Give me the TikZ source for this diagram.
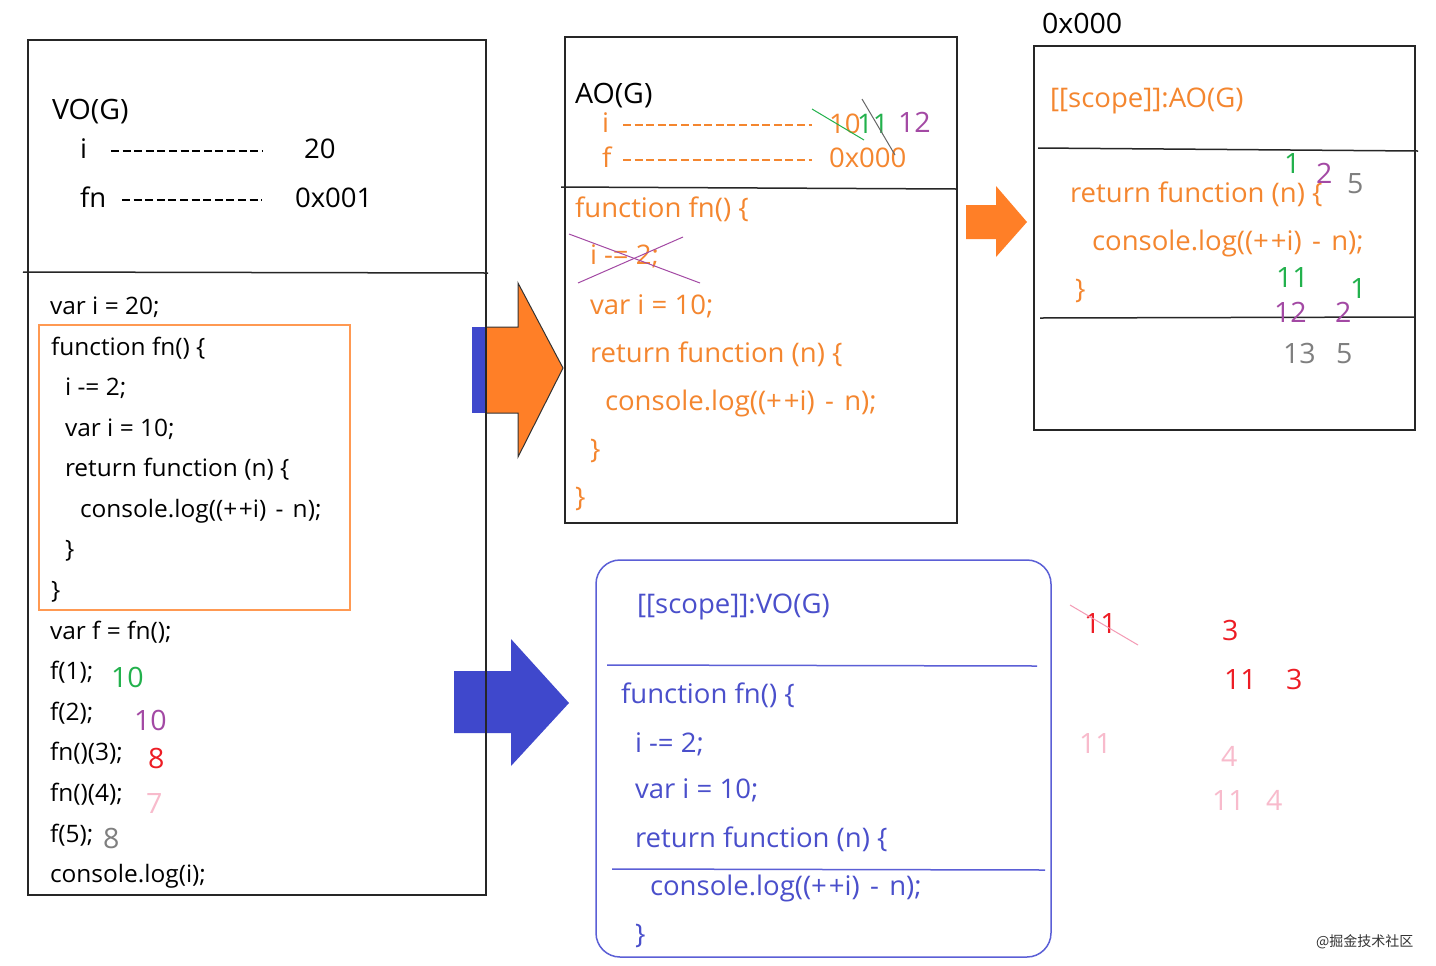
\documentclass[tikz,border=0pt]{standalone}
\usepackage{fontspec}
\setmainfont[FakeStretch=1.02]{Open Sans}
\newfontfamily\cjkfont{Noto Sans CJK SC}
\newcommand{\consl}{console.log((+\kern0.07em+i)\kern0.12em\ -\ \kern0.12em n);}
\definecolor{codeorange}{HTML}{F4862F}
\definecolor{arroworange}{HTML}{FF7F27}
\definecolor{arrowblue}{HTML}{3F48CC}
\definecolor{txtblue}{HTML}{4A4FCB}
\definecolor{boxblue}{HTML}{5B5FD6}
\definecolor{mygreen}{HTML}{22B14C}
\definecolor{mypurple}{HTML}{A349A4}
\definecolor{myred}{HTML}{ED1C24}
\definecolor{mypink}{HTML}{F49AB4}
\definecolor{lightpink}{HTML}{F8BBCC}
\definecolor{mygray}{HTML}{7F7F7F}
\begin{document}
\begin{tikzpicture}[x=0.5pt,y=-0.5pt,
  txt/.style={anchor=base west,inner sep=0pt,outer sep=0pt},
  small/.style={txt,font=\fontsize{12}{14}\selectfont},
  mid/.style={txt,font=\fontsize{13.5}{16}\selectfont},
  num/.style={txt,font=\fontsize{14}{16}\selectfont},
  boxline/.style={draw=black!85,line width=0.75pt},
  hyph/.style={line width=0.7pt,dash pattern=on 4pt off 1.8pt},
  strike/.style={line width=0.5pt}]
\useasboundingbox (0,0) rectangle (1436,965);
\fill[white] (0,0) rectangle (1436,965);

% ---------- arrows ----------
\fill[arrowblue] (472,327) rectangle (487,413);
\filldraw[fill=arroworange,draw=black!80,line width=0.5pt]
  (486,327) -- (518,327) -- (518,283) -- (563,368) -- (518,457) -- (518,413) -- (486,413) -- cycle;
\fill[arrowblue] (454,671) -- (511,671) -- (511,639) -- (569,703) -- (511,766) -- (511,733) -- (454,733) -- cycle;
\fill[arroworange] (966,205) -- (996,205) -- (996,186) -- (1027,222) -- (996,257) -- (996,239) -- (966,239) -- cycle;

% ---------- left box ----------
\draw[boxline] (28,40) rectangle (486,895);
\draw[boxline] (23,272) -- (488,273);
\node[num] (vog) at (52,119) {VO(G)};
\node[mid] (vi) at (80,158) {i};
\draw[hyph] (111,151) -- (263,151);
\node[mid] (v20) at (304,158) {20};
\node[mid] (vfn) at (80,207) {fn};
\draw[hyph] (122,200) -- (262,200);
\node[mid] (v001) at (295,207) {0x001};

\draw[draw=arroworange!80,line width=0.75pt] (39,325) rectangle (350,610);
\node[small] (l1) at (50,314) {var i = 20;};
\node[small] (l2) at (51,355) {function fn() \{};
\node[small] (l3) at (65,395) {i -= 2;};
\node[small] (l4) at (65,436) {var i = 10;};
\node[small] (l5) at (65,476) {return function (n) \{};
\node[small] (l6) at (80,517) {\consl};
\node[small] (l7) at (65,557) {\}};
\node[small] (l8) at (51,598) {\}};
\node[small] (l9) at (50,639) {var f = fn();};
\node[small] (l10) at (50,679) {f(1);};
\node[small] (l11) at (50,720) {f(2);};
\node[small] (l12) at (50,760) {fn()(3);};
\node[small] (l13) at (50,801) {fn()(4);};
\node[small] (l14) at (50,842) {f(5);};
\node[small] (l15) at (50,882) {console.log(i);};
\node[num,text=mygreen] (a1) at (111,687) {10};
\node[num,text=mypurple] (a2) at (134,730) {10};
\node[num,text=myred] (a3) at (148,768) {8};
\node[num,text=lightpink] (a4) at (146,813) {7};
\node[num,text=mygray] (a5) at (103,848) {8};

% ---------- middle top box ----------
\draw[boxline] (565,37) rectangle (957,523);
\draw[boxline] (561,187) -- (957,189);
\node[num] (aog) at (575,103) {AO(G)};
\node[mid,text=codeorange] (mi) at (602,132) {i};
\draw[hyph,codeorange] (623,125) -- (812,125);
\node[mid,text=codeorange] (m10) at (829,133) {10};
\node[mid,text=mygreen] (m11) at (857,133) {11};
\node[num,text=mypurple] (m12) at (898,132) {12};
\node[mid,text=codeorange] (mf) at (602,167) {f};
\draw[hyph,codeorange] (623,160) -- (812,160);
\node[mid,text=codeorange] (m000) at (829,167) {0x000};
\draw[strike,mygreen] (812,109) -- (864,140);
\draw[strike,black!60] (862,99) -- (895,155);
\node[mid,text=codeorange] (c1) at (575,217) {function fn() \{};
\node[mid,text=codeorange] (c2) at (590,264) {i -= 2;};
\draw[strike,mypurple] (569,234) -- (700,283);
\draw[strike,mypurple] (578,283) -- (683,237);
\node[mid,text=codeorange] (c3) at (590,314) {var i = 10;};
\node[mid,text=codeorange] (c4) at (590,362) {return function (n) \{};
\node[mid,text=codeorange] (c5) at (605,410) {\consl};
\node[mid,text=codeorange] (c6) at (590,458) {\}};
\node[mid,text=codeorange] (c7) at (575,506) {\}};

% ---------- right top box ----------
\node[num] (addr) at (1042,33) {0x000};
\draw[boxline] (1034,46) rectangle (1415,430);
\draw[boxline] (1038,148) -- (1418,151);
\draw[boxline] (1040,318) -- (1415,317);
\node[mid,text=codeorange] (r0) at (1050,107) {[[scope]]:AO(G)};
\node[mid,text=codeorange] (r1) at (1070,202) {return function (n) \{};
\node[mid,text=codeorange] (r2) at (1092,250) {\consl};
\node[mid,text=codeorange] (r3) at (1075,298) {\}};
\node[num,text=mygreen] (n1) at (1284,173) {1};
\node[num,text=mypurple] (n2) at (1316,183) {2};
\node[num,text=mygray] (n3) at (1347,193) {5};
\node[num,text=mygreen] (n4) at (1276,287) {11};
\node[num,text=mygreen] (n5) at (1350,298) {1};
\node[num,text=mypurple] (n6) at (1274,322) {12};
\node[num,text=mypurple] (n7) at (1335,322) {2};
\node[num,text=mygray] (n8) at (1283,363) {13};
\node[num,text=mygray] (n9) at (1336,363) {5};

% ---------- blue box ----------
\draw[draw=boxblue,line width=0.75pt,rounded corners=12pt] (596,560) rectangle (1051,957);
\draw[boxblue,line width=0.75pt] (607,665) -- (1037,666);
\draw[boxblue,line width=0.75pt] (612,869) -- (1045,870);
\node[mid,text=txtblue] (b0) at (637,613) {[[scope]]:VO(G)};
\node[mid,text=txtblue] (b1) at (621,703) {function fn() \{};
\node[mid,text=txtblue] (b2) at (635,752) {i -= 2;};
\node[mid,text=txtblue] (b3) at (635,798) {var i = 10;};
\node[mid,text=txtblue] (b4) at (635,847) {return function (n) \{};
\node[mid,text=txtblue] (b5) at (650,895) {\consl};
\node[mid,text=txtblue] (b6) at (635,943) {\}};

% ---------- bottom right numbers ----------
\node[num,text=myred] (p1) at (1084,633) {11};
\draw[strike,mypink] (1070,605) -- (1138,645);
\node[num,text=myred] (p2) at (1222,640) {3};
\node[num,text=myred] (p3) at (1224,689) {11};
\node[num,text=myred] (p4) at (1286,689) {3};
\node[num,text=lightpink] (p5) at (1079,753) {11};
\node[num,text=lightpink] (p6) at (1221,766) {4};
\node[num,text=lightpink] (p7) at (1212,810) {11};
\node[num,text=lightpink] (p8) at (1266,810) {4};

% ---------- watermark ----------
\node[txt,font=\cjkfont\fontsize{7}{8}\selectfont,text=black!80] (wm) at (1316,946) {@掘金技术社区};
\end{tikzpicture}
\end{document}
